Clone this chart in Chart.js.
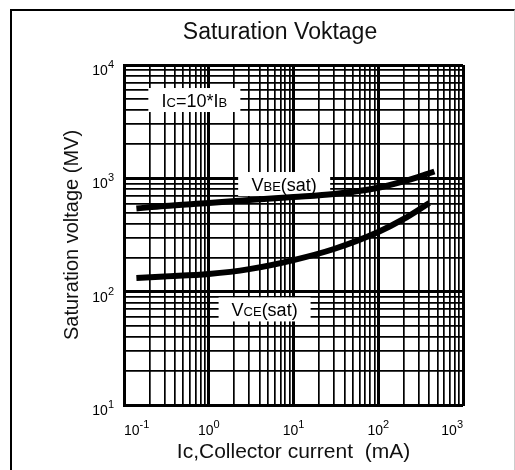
<!DOCTYPE html>
<html>
<head>
<meta charset="utf-8">
<script src="https://cdn.jsdelivr.net/npm/chart.js@4/dist/chart.umd.min.js"></script>
<style>
  html, body { margin: 0; padding: 0; background: #fff; }
  #wrap { position: relative; width: 515px; height: 470px; overflow: hidden; }
  #frame { position: absolute; left: 10px; top: 9px; width: 502px; height: 470px;
           border-top: 2px solid #000; border-left: 2px solid #000; border-right: 1px solid #ccc;
           pointer-events: none; }
</style>
</head>
<body>
<div id="wrap">
  <canvas id="chart-saturation" width="515" height="470"></canvas>
  <div id="frame"></div>
</div>
<script>
// curves (Ic in mA, V in mV)
const vbeCurrent = [0.14, 0.3, 1, 3, 10, 30, 100, 200, 300, 460];
const vbeVoltage = [542, 570, 606, 644, 684, 727, 827, 942, 1032, 1149];
const vceCurrent = [0.14, 0.3, 1, 3, 10, 30, 100, 200, 400];
const vceVoltage = [132, 136, 143, 158, 190, 238, 336, 438, 606];

// decade tick labels: mantissa + exponent
const xDecades = [0.1, 1, 10, 100, 1000];
const xExponents = ["-1", "0", "1", "2", "3"];
const yDecades = [10, 100, 1000, 10000];
const yExponents = ["1", "2", "3", "4"];

// notes inside the plot: [text, small?] parts, anchored in data units
const noteParts = [
  [["I", 0], ["C", 1], ["=10*I", 0], ["B", 1]],
  [["V", 0], ["BE", 1], ["(sat)", 0]],
  [["V", 0], ["CE", 1], ["(sat)", 0]],
];
const noteCurrent = [0.676, 7.76, 4.56];
const noteVoltage = [4910, 891, 69.7];

const FONT = '"Liberation Sans", Arial, sans-serif';

function logGrid(axis) {
  const ticks = [];
  const lo = Math.round(Math.log10(axis.min));
  const hi = Math.round(Math.log10(axis.max));
  for (let e = lo; e <= hi; e++) {
    for (let m = 1; m <= 9; m++) {
      const v = m * Math.pow(10, e);
      if (v >= axis.min * 0.999 && v <= axis.max * 1.001) ticks.push({ value: v });
    }
  }
  axis.ticks = ticks;
}

function drawNote(ctx, parts, cx, cy) {
  const big = "18px " + FONT;
  const small = "13px " + FONT;
  let w = 0;
  parts.forEach(([t, s]) => {
    ctx.font = s ? small : big;
    w += ctx.measureText(t).width;
  });
  ctx.fillStyle = "#fff";
  ctx.fillRect(cx - 46, cy - 12, 92, 24);
  ctx.fillStyle = "#000";
  ctx.textAlign = "left";
  ctx.textBaseline = "alphabetic";
  let x = cx - w / 2;
  parts.forEach(([t, s]) => {
    ctx.font = s ? small : big;
    ctx.fillText(t, x, cy + 6.5);
    x += ctx.measureText(t).width;
  });
}

// "10" with a raised exponent; align: left/center/right of the whole label
function drawPower(ctx, exp, x, y, align) {
  const main = "14px " + FONT;
  const sup = "11px " + FONT;
  ctx.font = main;
  const w1 = ctx.measureText("10").width;
  ctx.font = sup;
  const w2 = ctx.measureText(exp).width;
  const w = w1 + w2;
  let x0 = x;
  if (align === "center") x0 = x - w / 2;
  if (align === "right") x0 = x - w;
  ctx.textAlign = "left";
  ctx.textBaseline = "alphabetic";
  ctx.font = main;
  ctx.fillText("10", x0, y);
  ctx.font = sup;
  ctx.fillText(exp, x0 + w1, y - 7);
}

const notesPlugin = {
  id: "notes",
  beforeDatasetsDraw(chart) {
    const ctx = chart.ctx;
    const xs = chart.scales.x;
    const ys = chart.scales.y;
    ctx.save();
    noteParts.forEach((parts, i) => {
      drawNote(ctx, parts, xs.getPixelForValue(noteCurrent[i]), ys.getPixelForValue(noteVoltage[i]));
    });
    ctx.restore();
  },
  afterDraw(chart) {
    const ctx = chart.ctx;
    const xs = chart.scales.x;
    const ys = chart.scales.y;
    const area = chart.chartArea;
    ctx.save();
    ctx.fillStyle = "#000";
    xDecades.forEach((v, i) => {
      const align = i === 0 ? "left" : i === xDecades.length - 1 ? "right" : "center";
      drawPower(ctx, xExponents[i], xs.getPixelForValue(v), area.bottom + 30, align);
    });
    yDecades.forEach((v, i) => {
      drawPower(ctx, yExponents[i], area.left - 10, ys.getPixelForValue(v) + 10, "right");
    });
    ctx.font = "23px " + FONT;
    ctx.fillStyle = "#111";
    ctx.textAlign = "center";
    ctx.textBaseline = "middle";
    ctx.fillText("Saturation Voktage", 280, 33);
    ctx.restore();
  },
};

function renderChartSaturation() {
  const chartData = [
    {
      label: "VBE(sat)",
      data: vbeCurrent.map((c, i) => ({ x: c, y: vbeVoltage[i] })),
    },
    {
      label: "VCE(sat)",
      data: vceCurrent.map((c, i) => ({ x: c, y: vceVoltage[i] })),
    },
  ].map((d) => ({
    ...d,
    borderColor: "#000",
    backgroundColor: "#000",
    borderWidth: 6,
    pointRadius: 0,
    cubicInterpolationMode: "monotone",
    borderCapStyle: "butt",
  }));

  const gridWidth = (ctx) =>
    ctx.tick && Math.abs(Math.log10(ctx.tick.value) - Math.round(Math.log10(ctx.tick.value))) < 1e-6 ? 3 : 1.7;

  const config = {
    type: "line",
    data: { datasets: chartData },
    plugins: [notesPlugin],
    options: {
      responsive: false,
      animation: false,
      layout: { padding: { top: 65, right: 52, left: 0, bottom: 0 } },
      plugins: {
        legend: { display: false },
        tooltip: { enabled: false },
      },
      scales: {
        x: {
          type: "logarithmic",
          min: 0.1,
          max: 1000,
          afterBuildTicks: logGrid,
          afterFit: (s) => { s.height = 65; },
          grid: { color: "#000", lineWidth: gridWidth, drawTicks: false },
          border: { color: "#000", width: 2 },
          ticks: { display: false, autoSkip: false },
          title: {
            display: true,
            text: "Ic,Collector current  (mA)",
            color: "#111",
            font: { family: FONT, size: 21 },
            padding: { top: 0, bottom: 5 },
          },
        },
        y: {
          type: "logarithmic",
          min: 10,
          max: 10000,
          afterBuildTicks: logGrid,
          afterFit: (s) => { s.width = 124; },
          grid: { color: "#000", lineWidth: gridWidth, drawTicks: false },
          border: { color: "#000", width: 2 },
          ticks: { display: false, autoSkip: false },
          title: {
            display: true,
            text: "Saturation voltage (MV)",
            color: "#111",
            font: { family: FONT, size: 20 },
            padding: { top: 60, bottom: 0 },
          },
        },
      },
    },
  };

  const myChart = new Chart(document.getElementById("chart-saturation"), config);
}

renderChartSaturation();
</script>
</body>
</html>
